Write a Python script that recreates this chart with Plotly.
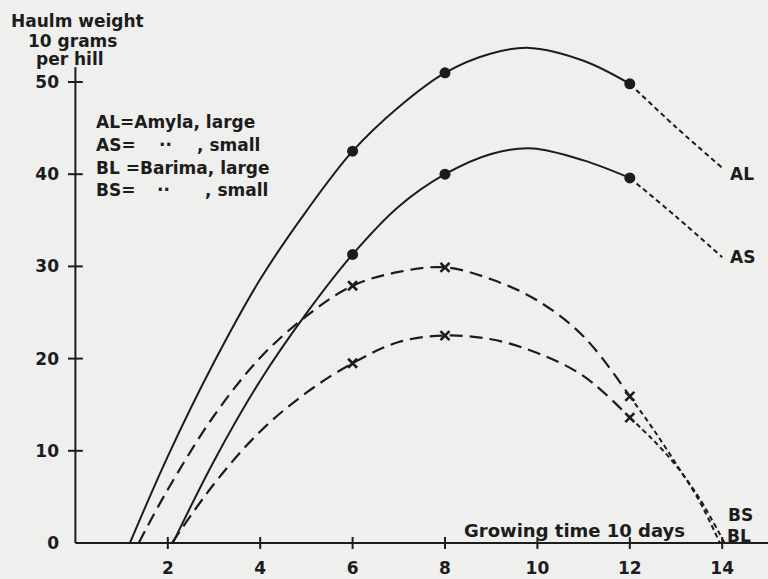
import plotly.graph_objects as go

# ---- data ----
al_x = [1.18, 2, 3, 4, 5, 6, 7, 8, 9, 9.84, 11, 12]
al_y = [0.0, 9.4, 19.6, 28.6, 36.0, 42.5, 47.3, 51.0, 53.1, 53.7, 52.3, 49.8]
al_end_x = [12.0, 13.0, 14.0]
al_end_y = [49.8, 45.1, 40.7]

as_x = [2.11, 3, 4, 5, 6, 7, 8, 9, 9.9, 11, 12]
as_y = [0.0, 8.9, 17.6, 24.9, 31.3, 36.5, 40.0, 42.2, 42.8, 41.5, 39.6]
as_end_x = [12.0, 13.0, 14.0]
as_end_y = [39.6, 35.4, 31.0]

bl_x = [1.37, 2, 3, 4, 5, 6, 7, 8, 9, 10, 11, 12]
bl_y = [0.0, 5.8, 13.8, 20.1, 24.6, 27.9, 29.4, 29.9, 28.6, 26.3, 22.4, 15.9]
bl_end_x = [12.0, 12.5, 13.0, 13.5, 13.95]
bl_end_y = [15.9, 12.4, 8.6, 4.6, 0.0]

bs_x = [2.09, 3, 4, 5, 6, 7, 8, 9, 10, 11, 12]
bs_y = [0.0, 6.4, 12.1, 16.3, 19.5, 21.8, 22.5, 22.1, 20.6, 18.1, 13.6]
bs_end_x = [12.0, 12.5, 13.0, 13.5, 14.05]
bs_end_y = [13.6, 11.2, 8.4, 4.9, 0.0]

mark_x = [6, 8, 12]
al_m = [42.5, 51.0, 49.8]
as_m = [31.3, 40.0, 39.6]
bl_m = [27.9, 29.9, 15.9]
bs_m = [19.5, 22.5, 13.6]

x_ticks = [2, 4, 6, 8, 10, 12, 14]
y_ticks = [0, 10, 20, 30, 40, 50]

INK = "#1c1c1c"
BG = "#efefed"
FONT = "DejaVu Sans"

W, H = 768, 579
ML, MR, MT, MB = 60, 0, 15, 30
PW, PH = W - ML - MR, H - MT - MB


def dx(px):
    return (px - 75.4) / 46.2


def dy(py):
    return (543 - py) / 9.22


def paper_x(px):
    return (px - ML) / PW


def paper_y(py):
    return 1 - (py - MT) / PH


fig = go.Figure()

LONG = "13px,7px"
SHORT = "5px,3.5px"


def curve(x, y, dash, w=2.0):
    fig.add_trace(go.Scatter(x=x, y=y, mode="lines",
                             line=dict(color=INK, width=w, dash=dash,
                                       shape="spline", smoothing=1.0),
                             showlegend=False, hoverinfo="skip"))


curve(al_x, al_y, "solid")
curve(as_x, as_y, "solid")
curve(al_end_x, al_end_y, SHORT)
curve(as_end_x, as_end_y, SHORT)
curve(bl_x, bl_y, LONG, 2.2)
curve(bs_x, bs_y, LONG, 2.2)
curve(bl_end_x, bl_end_y, SHORT)
curve(bs_end_x, bs_end_y, SHORT)

for ys in (al_m, as_m):
    fig.add_trace(go.Scatter(x=mark_x, y=ys, mode="markers",
                             marker=dict(symbol="circle", size=11, color=INK),
                             showlegend=False, hoverinfo="skip"))
for ys in (bl_m, bs_m):
    fig.add_trace(go.Scatter(x=mark_x, y=ys, mode="markers",
                             marker=dict(symbol="x-thin", size=9,
                                         line=dict(color=INK, width=2.6)),
                             showlegend=False, hoverinfo="skip"))

shapes = []
# axis lines
shapes.append(dict(type="line", xref="x", yref="y", x0=0, x1=0, y0=0, y1=51.6,
                   line=dict(color=INK, width=2)))
shapes.append(dict(type="line", xref="x", yref="y", x0=0, x1=15.5, y0=0, y1=0,
                   line=dict(color=INK, width=2)))
# crossing ticks
for t in x_ticks:
    shapes.append(dict(type="line", xref="x", yref="y", x0=t, x1=t,
                       y0=-0.65, y1=0.65, line=dict(color=INK, width=2)))
for t in y_ticks[1:]:
    shapes.append(dict(type="line", xref="x", yref="y", x0=-0.16, x1=0.16,
                       y0=t, y1=t, line=dict(color=INK, width=2)))

ann = []


def text(s, px, py, anchor="left", size=17):
    ann.append(dict(text=s, x=paper_x(px), y=paper_y(py), xref="paper",
                    yref="paper", xanchor=anchor, yanchor="middle",
                    showarrow=False,
                    font=dict(family=FONT, size=size, color=INK)))


text("<b>Haulm weight</b>", 9, 21)
text("<b>10 grams</b>", 26, 41)
text("<b>per hill</b>", 34, 59)

text("<b>AL=Amyla, large</b>", 94, 122)
text("<b>AS=</b>", 94, 145)
text("<b>··</b>", 165, 145, anchor="center")
text("<b>, small</b>", 195, 145)
text("<b>BL =Barima, large</b>", 94, 168)
text("<b>BS=</b>", 94, 190)
text("<b>··</b>", 163, 190, anchor="center")
text("<b>, small</b>", 203, 190)

text("<b>AL</b>", 742, 174, anchor="center")
text("<b>AS</b>", 742, 257, anchor="center")
text("<b>BS</b>", 740, 515, anchor="center")
text("<b>BL</b>", 739, 536, anchor="center")
text("<b>Growing time 10 days</b>", 462, 530, size=18)

fig.update_layout(
    width=W, height=H,
    margin=dict(l=ML, r=MR, t=MT, b=MB),
    paper_bgcolor=BG, plot_bgcolor=BG,
    shapes=shapes, annotations=ann,
    font=dict(family=FONT, color=INK),
    xaxis=dict(range=[dx(ML), dx(W - MR)], showgrid=False, zeroline=False,
               showline=False, ticks="", tickvals=x_ticks,
               ticktext=[f"<b>{t}</b>" for t in x_ticks],
               tickfont=dict(family=FONT, size=17, color=INK),
               ticklabelstandoff=7),
    yaxis=dict(range=[dy(MT + PH), dy(MT)], showgrid=False, zeroline=False,
               showline=False, ticks="", tickvals=y_ticks,
               ticktext=[f"<b>{t}</b>" for t in y_ticks],
               tickfont=dict(family=FONT, size=17, color=INK),
               ticklabelstandoff=0),
)

fig.write_html("out.html",
               config={"displayModeBar": False},
               post_script="document.body.style.margin='0px';"
                           "document.body.style.background='" + BG + "';")
